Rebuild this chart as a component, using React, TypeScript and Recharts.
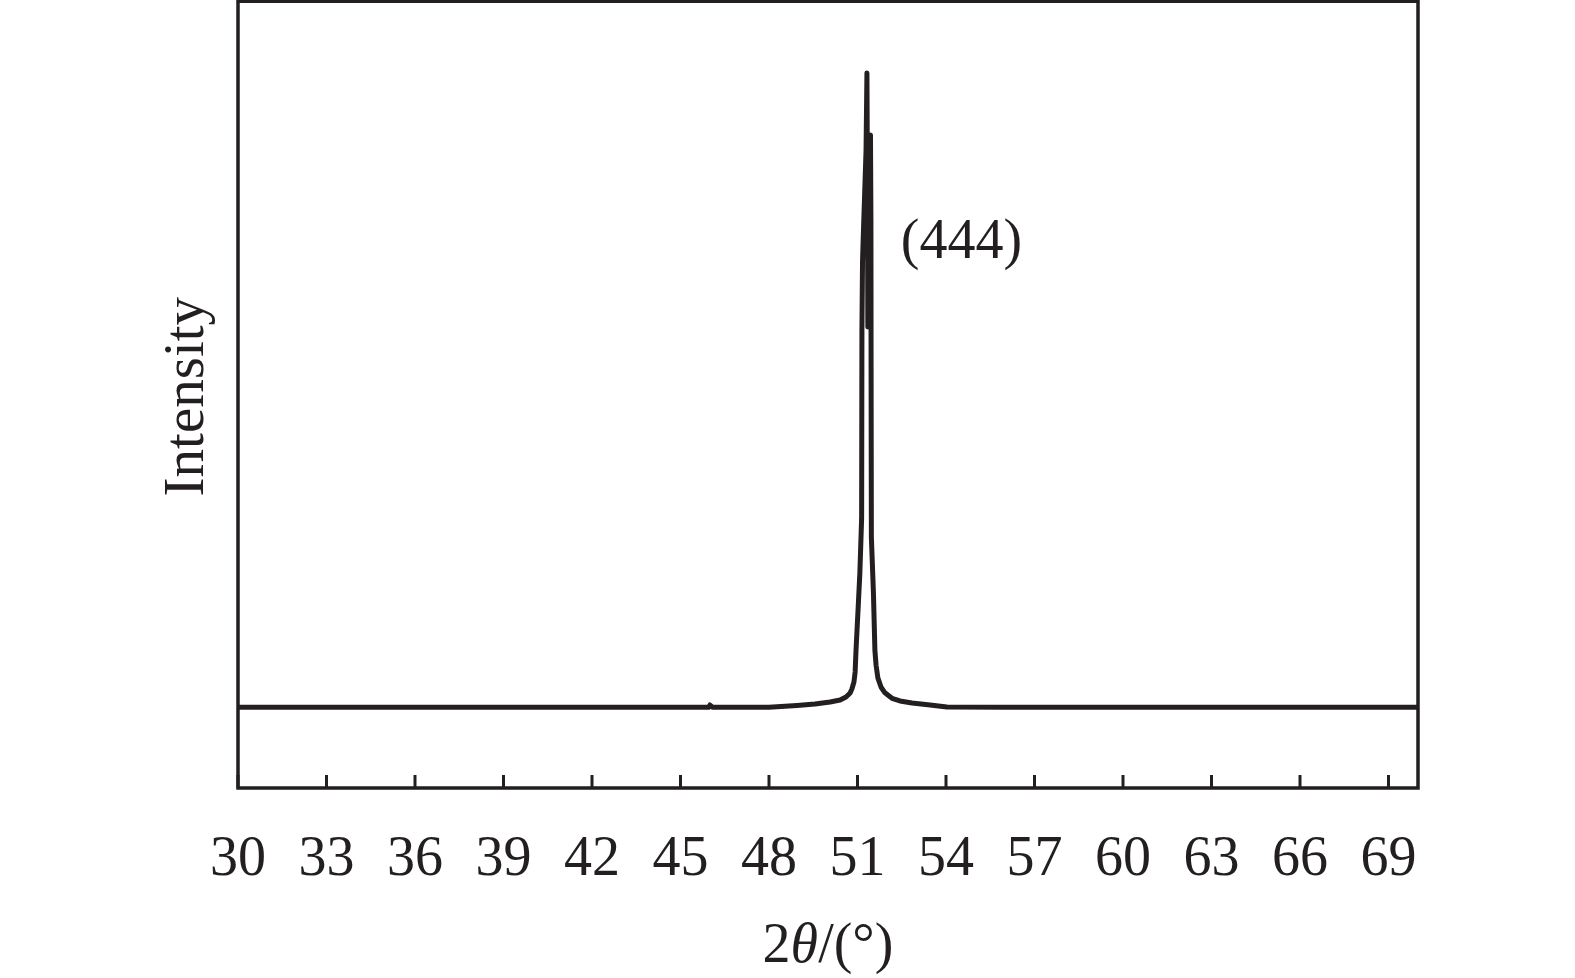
import React from 'react';
import { LineChart, Line, XAxis, YAxis, ReferenceArea, ReferenceDot } from 'recharts';

// 2θ positions (degrees)
const twoTheta: number[] = [
  30, 32, 34, 36, 38, 40, 42, 44, 45, 45.95, 46.0, 46.08, 47, 48, 48.95, 49.56, 50.07, 50.41,
  50.61, 50.75, 50.81, 50.88, 50.92, 50.95, 51.03, 51.08, 51.14, 51.15, 51.17, 51.2, 51.29, 51.32,
  51.34, 51.35, 51.41, 51.44, 51.455, 51.46, 51.47, 51.54, 51.59, 51.63, 51.69, 51.8, 51.93,
  52.17, 52.44, 52.85, 53.46, 54.03, 56, 58, 60, 62, 64, 66, 68, 70,
];
// Intensity (arbitrary units)
const intensity: number[] = [
  10.25, 10.25, 10.25, 10.25, 10.25, 10.25, 10.25, 10.25, 10.25, 10.25, 10.55, 10.28, 10.25, 10.25, 10.5, 10.68, 10.93, 11.19,
  11.57, 12.08, 12.58, 13.47, 14.75, 17.54, 23.5, 27.3, 34.3, 58.2, 66.9, 70.6, 81.1, 90.9,
  74.7, 58.6, 68.4, 83.0, 72.2, 55.3, 31.9, 24.8, 17.5, 15.6, 14.0, 12.8, 12.1,
  11.4, 11.06, 10.8, 10.55, 10.3, 10.25, 10.25, 10.25, 10.25, 10.25, 10.25, 10.25, 10.25,
];
const xTicks: number[] = [30, 33, 36, 39, 42, 45, 48, 51, 54, 57, 60, 63, 66, 69];
const peakLabel = '(444)';
const peakLabelPos = { x: 52.47, y: 67.4 };

const data = twoTheta.map((x, i) => ({ x, y: intensity[i] }));

const INK = '#231f20';
const FONT = '"Liberation Serif", "Times New Roman", serif';

const Tick = (props: any) => {
  const { x, y, payload } = props;
  return (
    <g>
      <line x1={x} x2={x} y1={y} y2={y - 13} stroke={INK} strokeWidth={3} />
      <text x={x} y={y + 87} textAnchor="middle" fontFamily={FONT} fontSize={56} fill={INK}>
        {payload.value}
      </text>
    </g>
  );
};

const XLabel = (props: any) => {
  const vb = props.viewBox;
  return (
    <text x={vb.x + vb.width / 2} y={vb.y + 174} textAnchor="middle" fontFamily={FONT} fontSize={56} fill={INK}>
      2<tspan fontStyle="italic">θ</tspan>/(°)
    </text>
  );
};

const YLabel = (props: any) => {
  const vb = props.viewBox;
  const x = vb.x - 35;
  const y = vb.y + vb.height / 2 + 2;
  return (
    <text x={x} y={y} transform={`rotate(-90, ${x}, ${y})`} textAnchor="middle" fontFamily={FONT} fontSize={57} fill={INK}>
      Intensity
    </text>
  );
};

const PeakLabel = (props: any) => {
  const vb = props.viewBox;
  return (
    <text x={vb.x} y={vb.y} fontFamily={FONT} fontSize={56} fill={INK}>
      {peakLabel}
    </text>
  );
};

export default function App() {
  return (
    <div style={{ position: 'absolute', left: 0, top: 0, width: 1575, height: 978, background: '#fff' }}>
      <LineChart width={1575} height={978} data={data} margin={{ top: 1.3, right: 157, bottom: 0, left: 238 }}>
        <XAxis
          dataKey="x"
          type="number"
          domain={[30, 70]}
          ticks={xTicks}
          interval={0}
          axisLine={false}
          tickLine={false}
          tickSize={0}
          tickMargin={0}
          height={190}
          tick={<Tick />}
          label={<XLabel />}
        />
        <YAxis type="number" domain={[0, 100]} hide />
        <ReferenceArea
          x1={30}
          x2={70}
          y1={0}
          y2={100}
          fill="none"
          stroke={INK}
          strokeWidth={3.5}
          ifOverflow="visible"
          label={<YLabel />}
        />
        <Line
          type="linear"
          dataKey="y"
          stroke={INK}
          strokeWidth={5}
          dot={false}
          isAnimationActive={false}
          strokeLinejoin="round"
        />
        <ReferenceDot x={peakLabelPos.x} y={peakLabelPos.y} r={0} fill="none" stroke="none" label={<PeakLabel />} ifOverflow="visible" />
      </LineChart>
    </div>
  );
}
